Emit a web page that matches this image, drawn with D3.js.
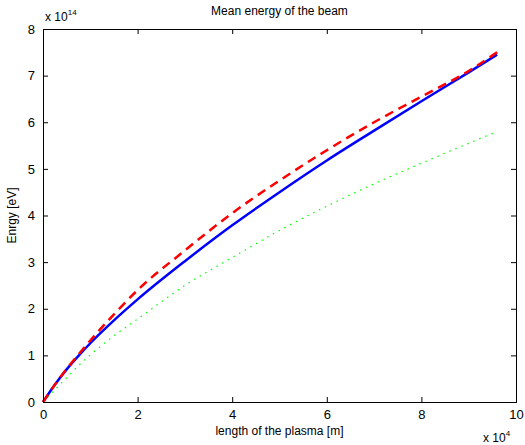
<!DOCTYPE html>
<html>
<head>
<meta charset="utf-8">
<script src="https://cdn.jsdelivr.net/npm/d3@7"></script>
<style>
  body { margin: 0; background: #fff; }
  text { font-family: "Liberation Sans", Arial, sans-serif; fill: #000; }
</style>
</head>
<body>
<svg id="chart" width="525" height="445"></svg>
<script>
// values (x in 1e4 m, y in 1e14 eV)
const xs = [0, 0.25, 0.5, 0.75, 1, 1.5, 2, 3, 4, 5, 6, 7, 8, 9, 9.6];
const blue = [0, 0.37, 0.7, 0.99, 1.26, 1.75, 2.2, 3.02, 3.79, 4.5, 5.18, 5.82, 6.45, 7.07, 7.45];
const red = [0, 0.37, 0.71, 1.02, 1.32, 1.88, 2.4, 3.25, 4.05, 4.75, 5.4, 6.0, 6.55, 7.1, 7.5];
const green = [0, 0.26, 0.52, 0.78, 1.01, 1.42, 1.78, 2.5, 3.1, 3.68, 4.2, 4.68, 5.12, 5.55, 5.8];
const xTicks = [0, 2, 4, 6, 8, 10];
const yTicks = [0, 1, 2, 3, 4, 5, 6, 7, 8];

const margin = { top: 29, right: 9, bottom: 43, left: 43 };
const width = 525 - margin.left - margin.right;
const height = 445 - margin.top - margin.bottom;

const svg = d3.select('#chart');
const g = svg.append('g')
  .attr('transform', `translate(${margin.left},${margin.top})`);

const x = d3.scaleLinear().domain([0, 10]).range([0, width]);
const y = d3.scaleLinear().domain([0, 8]).range([height, 0]);

// series
const line = d3.line()
  .x((d, i) => x(xs[i]))
  .y(d => y(d))
  .curve(d3.curveMonotoneX);

g.append('path')
  .datum(green)
  .attr('d', line)
  .attr('fill', 'none')
  .attr('stroke', '#00ff00')
  .attr('stroke-width', 1.2)
  .attr('stroke-dasharray', '1.5,5');

g.append('path')
  .datum(blue)
  .attr('d', line)
  .attr('fill', 'none')
  .attr('stroke', '#0000ff')
  .attr('stroke-width', 2.5);

g.append('path')
  .datum(red)
  .attr('d', line)
  .attr('fill', 'none')
  .attr('stroke', '#ff0000')
  .attr('stroke-width', 2.5)
  .attr('stroke-dasharray', '9,6');

// axes with inward ticks, box style
const fmt = d3.format('d');
const axB = g.append('g').attr('transform', `translate(0,${height})`)
  .call(d3.axisBottom(x).tickValues(xTicks).tickSize(-5).tickPadding(8).tickFormat(fmt));
const axT = g.append('g')
  .call(d3.axisTop(x).tickValues(xTicks).tickSize(-5).tickFormat(''));
const axL = g.append('g')
  .call(d3.axisLeft(y).tickValues(yTicks).tickSize(-5).tickPadding(8).tickFormat(fmt));
const axR = g.append('g').attr('transform', `translate(${width},0)`)
  .call(d3.axisRight(y).tickValues(yTicks).tickSize(-5).tickFormat(''));

[axB, axT, axL, axR].forEach(a => {
  a.select('.domain').attr('stroke', '#000').attr('stroke-width', 1);
  a.selectAll('.tick line').attr('stroke', '#000');
  a.selectAll('.tick text')
    .style('font-family', '"Liberation Sans", Arial, sans-serif')
    .style('font-size', '13px')
    .attr('fill', '#000');
});

// titles and labels
svg.append('text')
  .attr('x', margin.left + width / 2).attr('y', 15)
  .attr('text-anchor', 'middle')
  .style('font-size', '12px')
  .text('Mean energy of the beam');

svg.append('text')
  .attr('x', margin.left + width / 2).attr('y', 435)
  .attr('text-anchor', 'middle')
  .style('font-size', '12px')
  .text('length of the plasma [m]');

svg.append('text')
  .attr('transform', `translate(16,${margin.top + height / 2}) rotate(-90)`)
  .attr('text-anchor', 'middle')
  .style('font-size', '12px')
  .text('Enrgy [eV]');

// exponent labels
const e1 = svg.append('text').attr('x', 45).attr('y', 21).style('font-size', '12px');
e1.append('tspan').text('x 10');
e1.append('tspan').attr('dy', -6).style('font-size', '8px').text('14');

const e2 = svg.append('text').attr('x', 483).attr('y', 442).style('font-size', '12px');
e2.append('tspan').text('x 10');
e2.append('tspan').attr('dy', -6).style('font-size', '8px').text('4');
</script>
</body>
</html>
